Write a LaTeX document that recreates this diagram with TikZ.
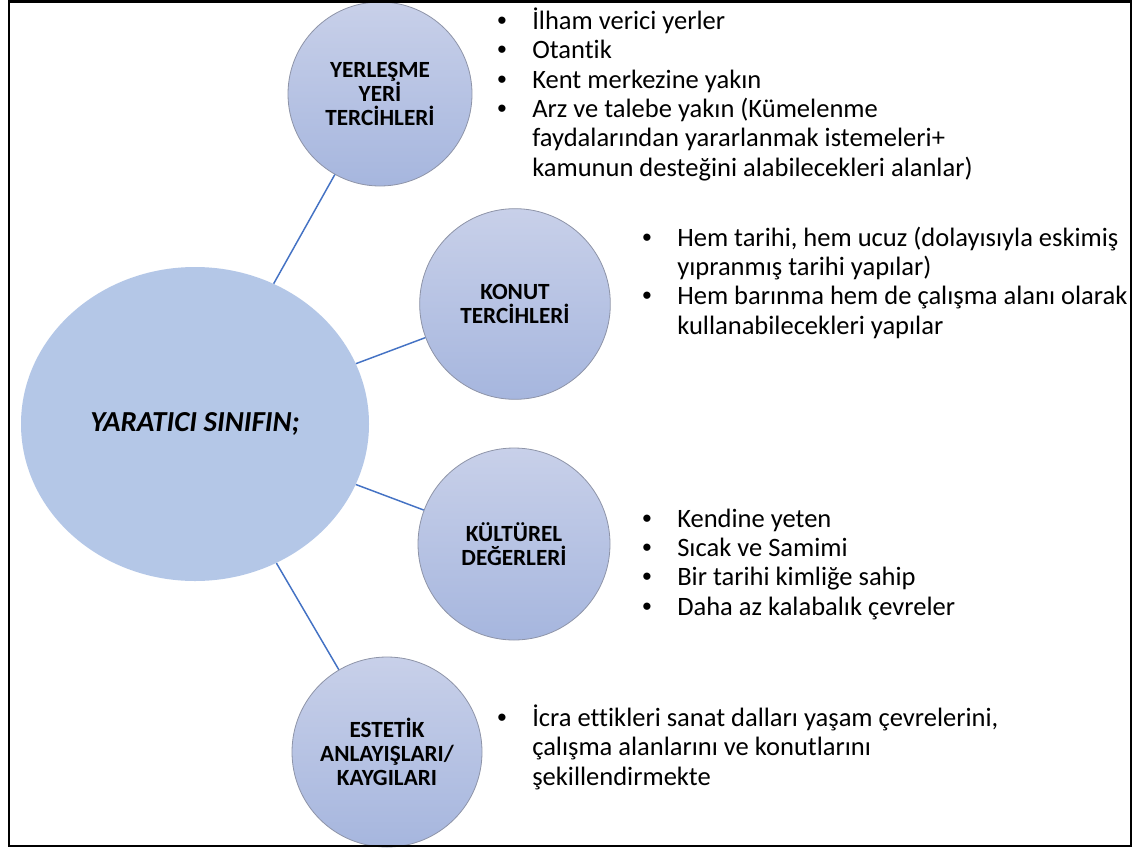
\documentclass[tikz,border=0pt]{standalone}
\usepackage{fontspec}
\setmainfont{Carlito}[Ligatures={TeX,NoCommon}]
\newfontfamily\bulletfont{Liberation Sans}
\usetikzlibrary{shapes.geometric}

\definecolor{hubfill}{HTML}{B4C7E7}
\definecolor{circtop}{HTML}{C8D0E9}
\definecolor{circbot}{HTML}{A6B6DE}
\definecolor{circedge}{HTML}{8E94A8}
\definecolor{linkblue}{HTML}{4472C4}

% bullet with a fixed hanging indent, and the matching indent for wrapped lines
\newcommand\bul{\strut\makebox[26.25pt][l]{\bulletfont\textbullet}}
\newcommand\cont{\strut\hspace*{26.25pt}}

\begin{document}
\begin{tikzpicture}[x=0.75pt,y=-0.75pt,
  hub/.style={ellipse, fill=hubfill, draw=none, inner sep=0pt,
    minimum width=261pt, minimum height=235.5pt,
    font=\fontsize{21.75}{24}\selectfont\bfseries\itshape},
  topic/.style={circle, draw=circedge, line width=0.6pt,
    top color=circtop, bottom color=circbot, inner sep=0pt,
    align=center, font=\fontsize{17.4}{17.8}\selectfont\bfseries},
  link/.style={draw=linkblue, line width=1.1pt},
  bullets/.style={anchor=north west, inner sep=0pt, align=left,
    font=\fontsize{19.9}{22}\selectfont},
  frame/.style={draw=black, line width=1.6pt}
]
\useasboundingbox (0,0) rectangle (1137,849);
\fill[white] (0,0) rectangle (1137,849);

% central hub and the four topic circles
\node[hub] (hub) at (195,424) {YARATICI SINIFIN;};
\node[topic, minimum size=138pt] (c1) at (380,94)
  {\fontsize{17.4}{15.4}\selectfont YERLEŞME\\YERİ\\TERCİHLERİ};
\node[topic, minimum size=143pt] (c2) at (515,304) {KONUT\\TERCİHLERİ};
\node[topic, minimum size=144pt] (c3) at (514,544) {KÜLTÜREL\\DEĞERLERİ};
\node[topic, minimum size=142.5pt] (c4) at (387,752) {ESTETİK\\ANLAYIŞLARI/\\KAYGILARI};

% connectors from the hub to each topic
\draw[link] (hub) -- (c1);
\draw[link] (hub) -- (c2);
\draw[link] (hub) -- (c3);
\draw[link] (hub) -- (c4);

% bullet lists beside each topic
\node[bullets] (l1) at (497,7.5) {%
  \bul İlham verici yerler\\
  \bul Otantik\\
  \bul Kent merkezine yakın\\
  \bul Arz ve talebe yakın (Kümelenme\\
  \cont faydalarından yararlanmak istemeleri+\\
  \cont kamunun desteğini alabilecekleri alanlar)};

\node[bullets] (l2) at (642,225.5) {%
  \bul Hem tarihi, hem ucuz (dolayısıyla eskimiş\\
  \cont yıpranmış tarihi yapılar)\\
  \bul Hem barınma hem de çalışma alanı olarak\\
  \cont kullanabilecekleri yapılar};

\node[bullets] (l3) at (642,506.5) {%
  \bul Kendine yeten\\
  \bul Sıcak ve Samimi\\
  \bul Bir tarihi kimliğe sahip\\
  \bul Daha az kalabalık çevreler};

\node[bullets] (l4) at (497,704.5) {%
  \bul İcra ettikleri sanat dalları yaşam çevrelerini,\\
  \cont çalışma alanlarını ve konutlarını\\
  \cont şekillendirmekte};

% outer frame
\draw[frame] (9,1.5) rectangle (1131,846);
\end{tikzpicture}
\end{document}
